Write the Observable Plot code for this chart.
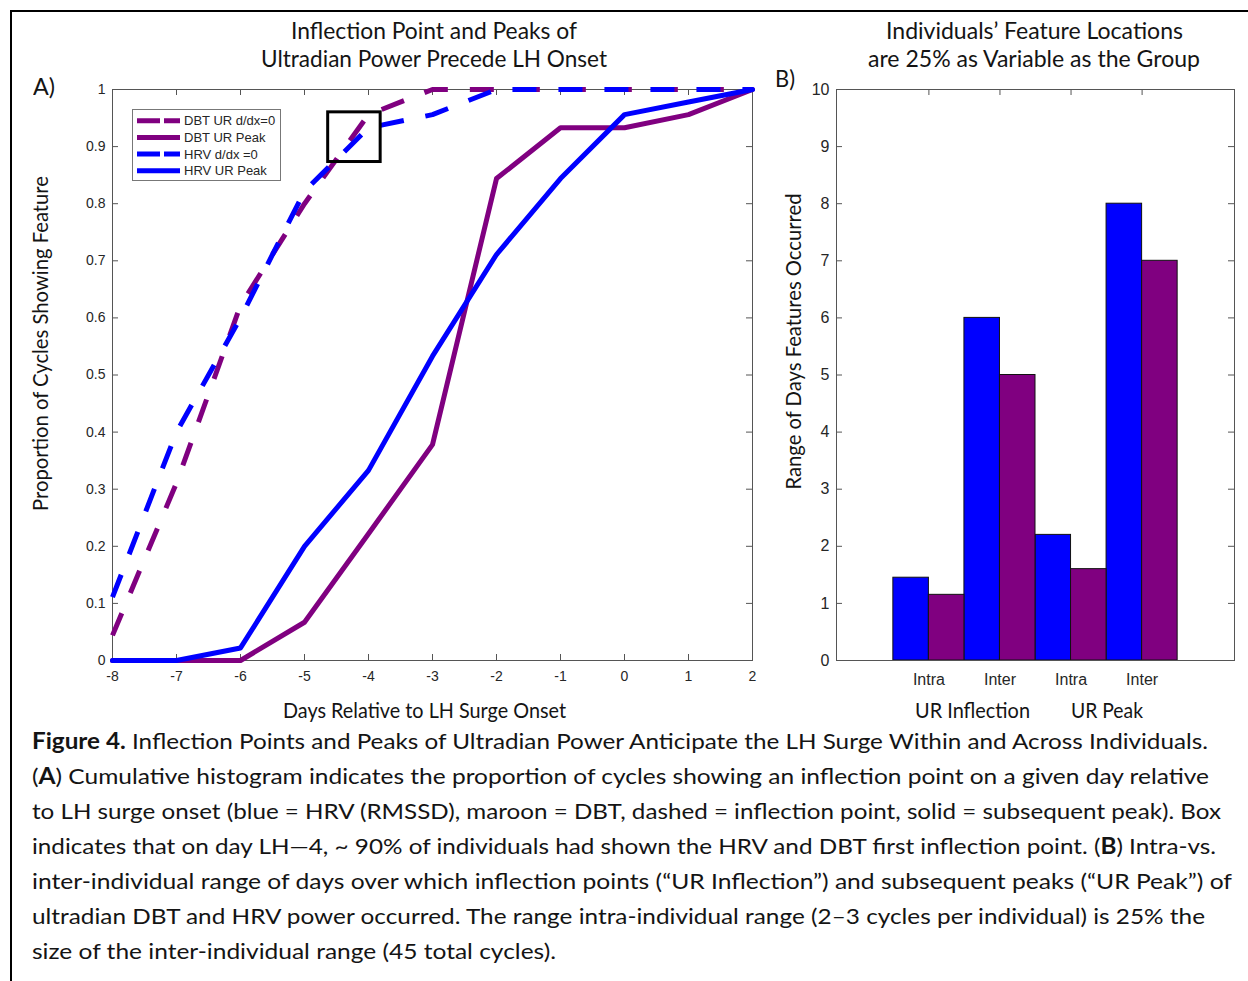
<!DOCTYPE html>
<html><head><meta charset="utf-8">
<script src="https://cdn.jsdelivr.net/npm/d3@7"></script>
<script src="https://cdn.jsdelivr.net/npm/@observablehq/plot@0.6"></script>
<style>
body{margin:0;background:#fff;}
#wrap{position:relative;width:1248px;height:981px;overflow:hidden;background:#fff;}
#border{position:absolute;left:10px;top:10px;width:1400px;height:1200px;border-top:2.5px solid #000;border-left:2.5px solid #000;box-sizing:border-box;}
.t{position:absolute;white-space:nowrap;font-family:Lato, "Open Sans", sans-serif;color:#141414;line-height:1;}
.p{position:absolute;top:0;}
</style></head><body><div id="wrap"><div id="border"></div></div>
<script>
// ---------- data ----------
const days = [-8, -7, -6, -5, -4, -3, -2, -1, 0, 1, 2];
const dbtInflection = [0.044, 0.311, 0.622, 0.800, 0.956, 1, 1, 1, 1, 1, 1];
const dbtPeak       = [0, 0, 0, 0.067, 0.222, 0.378, 0.844, 0.933, 0.933, 0.956, 1];
const hrvInflection = [0.111, 0.400, 0.600, 0.822, 0.933, 0.956, 1, 1, 1, 1, 1];
const hrvPeak       = [0, 0, 0.022, 0.200, 0.333, 0.533, 0.711, 0.844, 0.956, 0.978, 1];
const seriesNames = ["DBT UR d/dx=0", "DBT UR Peak", "HRV d/dx =0", "HRV UR Peak"];
const xTicksA = [-8, -7, -6, -5, -4, -3, -2, -1, 0, 1, 2];
const yTicksA = [0, 0.1, 0.2, 0.3, 0.4, 0.5, 0.6, 0.7, 0.8, 0.9, 1];
const boxA = [{x1: -4.63, x2: -3.81, y1: 0.873, y2: 0.96}];

const barCategories = ["Intra", "Inter", "Intra", "Inter"];
const barGroups = ["UR Inflection", "UR Peak"];
const hrvRange = [1.45, 6, 2.2, 8];
const dbtRange = [1.15, 5, 1.6, 7];
const yTicksB = [0, 1, 2, 3, 4, 5, 6, 7, 8, 9, 10];

const BLUE = "#0000ff", PURPLE = "#800080", AX = "#262626", FRAME = "#555";
const wrap = document.getElementById("wrap");

// ---------- panel A ----------
const A_W = 770, A_H = 700, A_L = 112, A_R = A_W - 752, A_T = 89, A_B = A_H - 660;
const aPW = 752 - 112, aPH = 660 - 89;
const series = [
  {vals: dbtInflection, color: PURPLE, dash: "24,22"},
  {vals: dbtPeak, color: PURPLE, dash: null},
  {vals: hrvInflection, color: BLUE, dash: "24,22"},
  {vals: hrvPeak, color: BLUE, dash: null}
];
const A = Plot.plot({
  width: A_W, height: A_H, marginLeft: A_L, marginRight: A_R, marginTop: A_T, marginBottom: A_B,
  x: {domain: [-8, 2]}, y: {domain: [0, 1]},
  style: {background: "transparent", fontFamily: "'Liberation Sans', Arial, sans-serif", fontSize: "14px", color: AX, overflow: "visible"},
  marks: [
    Plot.tickY(yTicksA, {y: d => d, insetRight: aPW - 6, stroke: FRAME}),
    Plot.tickY(yTicksA, {y: d => d, insetLeft: aPW - 6, stroke: FRAME}),
    Plot.tickX(xTicksA, {x: d => d, insetTop: aPH - 6, stroke: FRAME}),
    Plot.tickX(xTicksA, {x: d => d, insetBottom: aPH - 6, stroke: FRAME}),
    Plot.axisX({ticks: xTicksA, tickSize: 0, tickPadding: 11, tickFormat: d => String(d), label: null, fontSize: 14}),
    Plot.axisY({ticks: yTicksA, tickSize: 0, tickPadding: 7, tickFormat: d => String(d), label: null, fontSize: 14}),
    Plot.frame({stroke: FRAME}),
    ...series.map(s => Plot.line(days, {x: d => d, y: (d, i) => s.vals[i], stroke: s.color, strokeWidth: 5,
      strokeDasharray: s.dash, strokeLinecap: s.dash ? "butt" : "round", strokeLinejoin: "round"})),
    Plot.rect(boxA, {x1: "x1", x2: "x2", y1: "y1", y2: "y2", fill: "none", stroke: "#000", strokeWidth: 3})
  ]
});
A.classList.add("p"); A.style.left = "0px";
wrap.appendChild(A);

// legend (panel A)
const leg = d3.select(wrap).append("svg").attr("class", "p")
  .style("left", "132px").style("top", "109px").attr("width", 150).attr("height", 73);
leg.append("rect").attr("x", 0.5).attr("y", 0.5).attr("width", 148).attr("height", 71)
  .attr("fill", "#fff").attr("stroke", "#777");
seriesNames.forEach((name, i) => {
  const yy = 11.7 + i * 16.7;
  leg.append("line").attr("x1", 5).attr("x2", 48).attr("y1", yy).attr("y2", yy)
    .attr("stroke", series[i].color).attr("stroke-width", 5)
    .attr("stroke-dasharray", series[i].dash ? "23,4" : null);
  leg.append("text").attr("x", 52).attr("y", yy).attr("dy", "0.36em")
    .attr("font-family", "'Liberation Sans', Arial, sans-serif").attr("font-size", 13)
    .attr("fill", AX).text(name);
});

// ---------- panel B ----------
const B_W = 488, B_L = 76, B_R = 14, B_T = 89, B_H = 700, B_B = 40;
const bPW = B_W - B_L - B_R, bPH = 660 - 89;
const catIdx = [1, 2, 3, 4];
const B = Plot.plot({
  width: B_W, height: B_H, marginLeft: B_L, marginRight: B_R, marginTop: B_T, marginBottom: B_B,
  x: {domain: [-0.3, 5.3]}, y: {domain: [0, 10]},
  style: {background: "transparent", fontFamily: "'Liberation Sans', Arial, sans-serif", fontSize: "16px", color: AX, overflow: "visible"},
  marks: [
    Plot.tickY(yTicksB, {y: d => d, insetRight: bPW - 6, stroke: FRAME}),
    Plot.tickY(yTicksB, {y: d => d, insetLeft: bPW - 6, stroke: FRAME}),
    Plot.tickX(catIdx, {x: d => d, insetTop: bPH - 6, stroke: FRAME}),
    Plot.tickX(catIdx, {x: d => d, insetBottom: bPH - 6, stroke: FRAME}),
    Plot.rectY(catIdx, {x1: d => d - 0.5, x2: d => d, y1: 0, y2: (d, i) => hrvRange[i], fill: BLUE, stroke: "#111", strokeWidth: 1}),
    Plot.rectY(catIdx, {x1: d => d, x2: d => d + 0.5, y1: 0, y2: (d, i) => dbtRange[i], fill: PURPLE, stroke: "#111", strokeWidth: 1}),
    Plot.axisX({ticks: catIdx, tickSize: 0, tickPadding: 13, tickFormat: d => barCategories[d - 1], label: null, fontSize: 16}),
    Plot.axisY({ticks: yTicksB, tickSize: 0, tickPadding: 7, tickFormat: d => String(d), label: null, fontSize: 16}),
    Plot.frame({stroke: FRAME})
  ]
});
B.classList.add("p"); B.style.left = "760px";
wrap.appendChild(B);

// ---------- texts ----------
function addText(html, o) {
  const el = document.createElement("div");
  el.className = "t";
  el.innerHTML = html;
  el.style.fontSize = o.size + "px";
  if (o.bold) el.style.fontWeight = "bold";
  wrap.appendChild(el);
  const w = el.getBoundingClientRect().width;
  if (o.rotate) {
    const k = o.len / w;
    el.style.left = (o.xc - w / 2) + "px";
    el.style.top = (o.yc - o.size / 2) + "px";
    el.style.transformOrigin = "50% 50%";
    el.style.transform = `rotate(-90deg) scaleX(${k})`;
  } else {
    const k = (o.x1 - o.x0) / w;
    el.style.left = o.x0 + "px";
    el.style.top = (o.y - o.size * 0.55) + "px";
    el.style.transformOrigin = "0 50%";
    el.style.transform = `scaleX(${k})`;
  }
}
const titleA = ["Inflection Point and Peaks of", "Ultradian Power Precede LH Onset"];
const titleB = ["Individuals\u2019 Feature Locations", "are 25% as Variable as the Group"];
const captionLines = [
  "<b>Figure 4.</b> Inflection Points and Peaks of Ultradian Power Anticipate the LH Surge Within and Across Individuals.",
  "(<b>A</b>) Cumulative histogram indicates the proportion of cycles showing an inflection point on a given day relative",
  "to LH surge onset (blue = HRV (RMSSD), maroon = DBT, dashed = inflection point, solid = subsequent peak). Box",
  "indicates that on day LH\u20144, ~ 90% of individuals had shown the HRV and DBT first inflection point. (<b>B</b>) Intra-vs.",
  "inter-individual range of days over which inflection points (\u201cUR Inflection\u201d) and subsequent peaks (\u201cUR Peak\u201d) of",
  "ultradian DBT and HRV power occurred. The range intra-individual range (2\u20133 cycles per individual) is 25% the",
  "size of the inter-individual range (45 total cycles)."
];
const captionExtents = [[32, 1208], [32, 1209], [32, 1221], [32, 1216], [32, 1232], [32, 1205], [32, 556]];

function draw() {
  addText(titleA[0], {x0: 291, x1: 577, y: 32, size: 23});
  addText(titleA[1], {x0: 261, x1: 607, y: 60, size: 23});
  addText(titleB[0], {x0: 886, x1: 1183, y: 32, size: 23});
  addText(titleB[1], {x0: 868, x1: 1200, y: 60, size: 23});
  addText("A)", {x0: 33, x1: 55, y: 88, size: 23});
  addText("B)", {x0: 775, x1: 795, y: 80, size: 23});
  addText("Proportion of Cycles Showing Feature", {rotate: true, xc: 40, yc: 343.5, len: 335, size: 21});
  addText("Range of Days Features Occurred", {rotate: true, xc: 793, yc: 341, len: 296, size: 21});
  addText("Days Relative to LH Surge Onset", {x0: 283, x1: 566, y: 711, size: 21});
  addText(barGroups[0], {x0: 915, x1: 1030, y: 711, size: 21});
  addText(barGroups[1], {x0: 1071, x1: 1143, y: 711, size: 21});
  captionLines.forEach((l, i) => addText(l, {x0: captionExtents[i][0], x1: captionExtents[i][1], y: 742 + i * 35, size: 22}));
}
if (document.fonts && document.fonts.ready) document.fonts.ready.then(draw); else draw();
</script></body></html>
